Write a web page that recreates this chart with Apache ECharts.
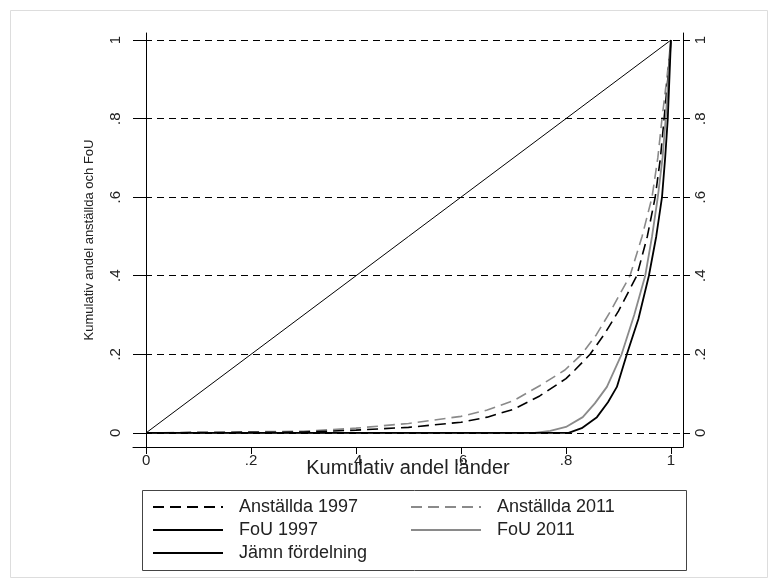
<!DOCTYPE html>
<html>
<head>
<meta charset="utf-8">
<script src="https://cdn.jsdelivr.net/npm/echarts@6/dist/echarts.min.js"></script>
<style>
  html, body { margin: 0; padding: 0; background: #fff; }
  #main { width: 777px; height: 585px; }
</style>
</head>
<body>
<div id="main"></div>
<script>
// tick positions (labels shown Stata style: 0 .2 .4 .6 .8 1)
var ticks = [0, 0.2, 0.4, 0.6, 0.8, 1];

// Lorenz curves, [kumulativ andel länder, kumulativ andel]
var jamn = [[0, 0], [1, 1]];
var anst1997 = [[0, 0], [0.3, 0.002], [0.4, 0.007], [0.5, 0.014], [0.6, 0.027], [0.65, 0.04],
  [0.7, 0.06], [0.75, 0.094], [0.8, 0.138], [0.817, 0.16], [0.846, 0.2], [0.875, 0.255],
  [0.9, 0.31], [0.935, 0.4], [0.955, 0.5], [0.97, 0.6], [0.98, 0.7], [0.987, 0.8],
  [0.994, 0.9], [1, 1]];
var anst2011 = [[0, 0], [0.3, 0.004], [0.4, 0.012], [0.5, 0.024], [0.6, 0.042], [0.65, 0.058],
  [0.7, 0.082], [0.75, 0.12], [0.798, 0.16], [0.83, 0.2], [0.858, 0.25], [0.885, 0.31],
  [0.922, 0.4], [0.945, 0.5], [0.964, 0.6], [0.975, 0.7], [0.983, 0.8], [0.992, 0.9], [1, 1]];
var fou1997 = [[0, 0], [0.805, 0], [0.83, 0.012], [0.859, 0.04], [0.88, 0.078], [0.897, 0.117],
  [0.916, 0.2], [0.938, 0.29], [0.958, 0.4], [0.972, 0.5], [0.983, 0.6], [0.989, 0.7],
  [0.994, 0.8], [0.997, 0.9], [1, 1]];
var fou2011 = [[0, 0], [0.74, 0], [0.77, 0.005], [0.8, 0.015], [0.832, 0.04], [0.855, 0.075],
  [0.878, 0.117], [0.906, 0.2], [0.93, 0.3], [0.951, 0.4], [0.964, 0.5], [0.975, 0.6],
  [0.984, 0.7], [0.99, 0.8], [0.995, 0.9], [1, 1]];

var font = "Liberation Sans, Arial, sans-serif";
function fmt(v) {
  if (v === 0) return '0';
  if (v === 1) return '1';
  return String(Math.round(v * 10) / 10).replace('0.', '.');
}

var myChart = echarts.init(document.getElementById('main'));

var yBase = {
  type: 'value',
  min: -0.036,
  max: 1.018,
  axisLine: { show: true, lineStyle: { color: '#000', width: 1 } },
  axisTick: { show: true, inside: false, length: 7, customValues: ticks, lineStyle: { color: '#000' } },
  axisLabel: { customValues: ticks, formatter: fmt, rotate: 90, margin: 10,
    fontFamily: font, fontSize: 15, color: '#222' },
  splitLine: { show: false }
};

var legendBase = {
  orient: 'vertical', top: 498, padding: 0,
  itemWidth: 70, itemHeight: 14, itemGap: 5,
  itemStyle: { color: 'rgba(0,0,0,0)', borderWidth: 0 },
  textStyle: { fontFamily: font, fontSize: 18, lineHeight: 18, color: '#222', padding: [0, 0, 0, 11] },
  selectedMode: false
};

var option = {
  animation: false,
  backgroundColor: '#fff',
  graphic: [
    { type: 'rect', shape: { x: 10.5, y: 10.5, width: 757, height: 567 },
      style: { fill: 'none', stroke: '#ddd', lineWidth: 1 }, silent: true },
    { type: 'rect', shape: { x: 142.5, y: 490.5, width: 544, height: 80 },
      style: { fill: 'none', stroke: '#444', lineWidth: 1 }, silent: true }
  ],
  grid: { left: 133, right: 94, top: 33, bottom: 138 },
  xAxis: {
    type: 'value',
    min: -0.025,
    max: 1.023,
    name: 'Kumulativ andel länder',
    nameLocation: 'middle',
    nameGap: 11,
    nameMoveOverlap: false,
    nameTextStyle: { fontFamily: font, fontSize: 20, color: '#222' },
    axisLine: { show: true, onZero: false, lineStyle: { color: '#000', width: 1 } },
    axisTick: { show: true, length: 7, customValues: ticks, lineStyle: { color: '#000' } },
    axisLabel: { customValues: ticks, formatter: fmt, margin: 6,
      fontFamily: font, fontSize: 15, color: '#222' },
    splitLine: { show: false }
  },
  yAxis: [
    Object.assign({}, yBase, {
      position: 'left',
      name: 'Kumulativ andel anställda och FoU',
      nameLocation: 'middle',
      nameGap: 37,
      nameMoveOverlap: false,
      nameTextStyle: { fontFamily: font, fontSize: 13, color: '#222' }
    }),
    Object.assign({}, yBase, { position: 'right' })
  ],
  legend: [
    Object.assign({}, legendBase, {
      data: ['Anställda 1997', 'FoU 1997', 'Jämn fördelning'], left: 152
    }),
    Object.assign({}, legendBase, {
      data: ['Anställda 2011', 'FoU 2011'], left: 410
    })
  ],
  series: [
    {
      name: 'Jämn fördelning', type: 'line', data: jamn, symbol: 'none',
      lineStyle: { color: '#000', width: 1 }, itemStyle: { color: '#000' },
      markLine: {
        silent: true, symbol: 'none', label: { show: false },
        lineStyle: { color: '#000', width: 1, type: [7, 5] },
        data: ticks.map(function (t) { return { yAxis: t }; })
      }
    },
    {
      name: 'Anställda 2011', type: 'line', data: anst2011, symbol: 'none',
      lineStyle: { color: '#8a8a8a', width: 1.6, type: [11, 6] }, itemStyle: { color: '#8a8a8a' }
    },
    {
      name: 'Anställda 1997', type: 'line', data: anst1997, symbol: 'none',
      lineStyle: { color: '#000', width: 1.6, type: [11, 6] }, itemStyle: { color: '#000' }
    },
    {
      name: 'FoU 2011', type: 'line', data: fou2011, symbol: 'none',
      lineStyle: { color: '#8a8a8a', width: 1.8 }, itemStyle: { color: '#8a8a8a' }
    },
    {
      name: 'FoU 1997', type: 'line', data: fou1997, symbol: 'none',
      lineStyle: { color: '#000', width: 1.8 }, itemStyle: { color: '#000' }
    }
  ]
};

myChart.setOption(option);
</script>
</body>
</html>
